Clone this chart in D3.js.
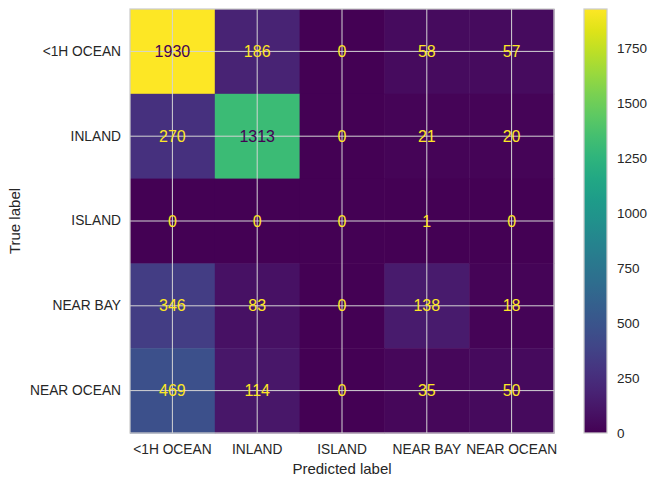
<!DOCTYPE html>
<html>
<head>
<meta charset="utf-8">
<script src="https://cdn.jsdelivr.net/npm/d3@7"></script>
<style>
  html, body { margin: 0; padding: 0; background: #fff; }
  svg text { font-family: "Liberation Sans", Arial, sans-serif; fill: #262626; }
</style>
</head>
<body>
<svg id="chart" width="657" height="486"></svg>
<script>
const categories = ["<1H OCEAN", "INLAND", "ISLAND", "NEAR BAY", "NEAR OCEAN"];
const row_lt1h = [1930, 186, 0, 58, 57];
const row_inland = [270, 1313, 0, 21, 20];
const row_island = [0, 0, 0, 1, 0];
const row_nearbay = [346, 83, 0, 138, 18];
const row_nearocean = [469, 114, 0, 35, 50];
const matrix = [row_lt1h, row_inland, row_island, row_nearbay, row_nearocean];
const colorbarTicks = [0, 250, 500, 750, 1000, 1250, 1500, 1750];
const xTitle = "Predicted label";
const yTitle = "True label";

const svg = d3.select("#chart");
const L = 130, R = 554, T = 9, B = 433;
const x = d3.scaleBand().domain(categories).range([L, R]);
const y = d3.scaleBand().domain(categories).range([T, B]);
const vmin = 0, vmax = d3.max(matrix.flat());
const color = d3.scaleSequential(d3.interpolateViridis).domain([vmin, vmax]);
const thresh = (vmin + vmax) / 2;

const cells = [];
matrix.forEach((row, i) => row.forEach((v, j) => cells.push({r: categories[i], c: categories[j], v})));

// cells
svg.append("g").selectAll("rect").data(cells).join("rect")
  .attr("x", d => x(d.c)).attr("y", d => y(d.r))
  .attr("width", x.bandwidth() + 0.5).attr("height", y.bandwidth() + 0.5)
  .attr("fill", d => color(d.v));

// grid lines
const grid = svg.append("g").attr("stroke", "#d4d4d4").attr("stroke-width", 1);
categories.forEach(c => {
  const cx = x(c) + x.bandwidth() / 2;
  grid.append("line").attr("x1", cx).attr("x2", cx).attr("y1", T).attr("y2", B);
  const cy = y(c) + y.bandwidth() / 2;
  grid.append("line").attr("x1", L).attr("x2", R).attr("y1", cy).attr("y2", cy);
});

// annotations
svg.append("g").selectAll("text").data(cells).join("text")
  .attr("x", d => x(d.c) + x.bandwidth() / 2)
  .attr("y", d => y(d.r) + y.bandwidth() / 2)
  .attr("text-anchor", "middle").attr("dy", "0.35em")
  .style("font-size", "16px")
  .style("fill", d => d.v > thresh ? color(vmin) : color(vmax))
  .text(d => d.v);

// border
svg.append("rect").attr("x", L).attr("y", T).attr("width", R - L).attr("height", B - T)
  .attr("fill", "none").attr("stroke", "#cccccc").attr("stroke-width", 1.25);

// axes
const xAxis = d3.axisBottom(x).tickSize(0).tickPadding(0);
const gx = svg.append("g").attr("transform", `translate(0,${B})`).call(xAxis);
gx.select(".domain").remove();
gx.selectAll("text").attr("y", 21).attr("dy", "0").style("font-size", "13.75px").style("font-family", null);

const yAxis = d3.axisLeft(y).tickSize(0).tickPadding(9);
const gy = svg.append("g").attr("transform", `translate(${L},0)`).call(yAxis);
gy.select(".domain").remove();
gy.selectAll("text").style("font-size", "13.75px").style("font-family", null);

svg.append("text").attr("x", (L + R) / 2).attr("y", 474).attr("text-anchor", "middle")
  .style("font-size", "15px").text(xTitle);
svg.append("text").attr("transform", `translate(20,${(T + B) / 2}) rotate(-90)`)
  .attr("text-anchor", "middle").style("font-size", "15px").text(yTitle);

// colorbar
const CL = 584, CR = 607;
const cy = d3.scaleLinear().domain([vmin, vmax]).range([B, T]);
const defs = svg.append("defs");
const grad = defs.append("linearGradient").attr("id", "cb").attr("x1", 0).attr("y1", 1).attr("x2", 0).attr("y2", 0);
d3.range(0, 1.0001, 0.05).forEach(t => grad.append("stop").attr("offset", t).attr("stop-color", d3.interpolateViridis(t)));
svg.append("rect").attr("x", CL).attr("y", T).attr("width", CR - CL).attr("height", B - T)
  .attr("fill", "url(#cb)").attr("stroke", "#cccccc").attr("stroke-width", 1.25);
const cAxis = d3.axisRight(cy).tickValues(colorbarTicks).tickSize(0).tickPadding(10).tickFormat(d3.format("d"));
const gc = svg.append("g").attr("transform", `translate(${CR},0)`).call(cAxis);
gc.select(".domain").remove();
gc.selectAll("text").style("font-size", "13.5px").style("font-family", null);
</script>
</body>
</html>
